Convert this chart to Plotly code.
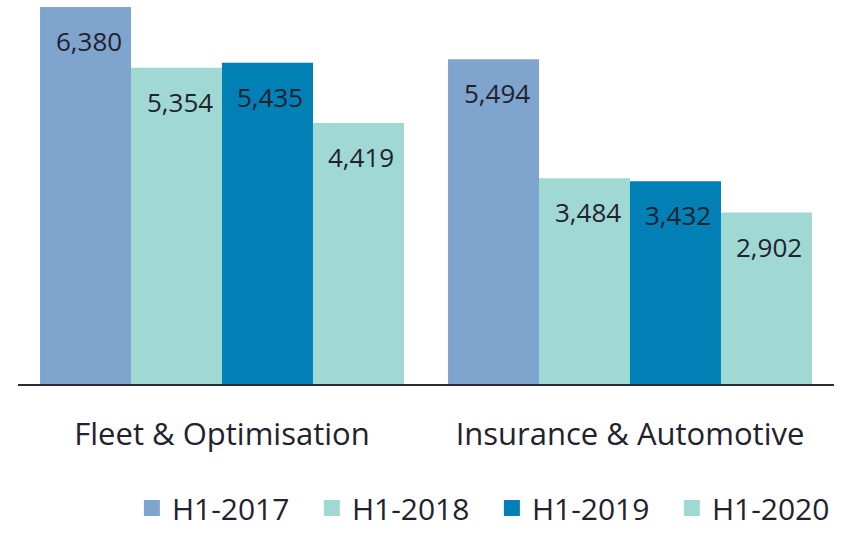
import plotly.graph_objects as go

categories = ["Fleet & Optimisation", "Insurance & Automotive"]
series_names = ["H1-2017", "H1-2018", "H1-2019", "H1-2020"]
values_2017 = [6380, 5494]
values_2018 = [5354, 3484]
values_2019 = [5435, 3432]
values_2020 = [4419, 2902]
series_values = [values_2017, values_2018, values_2019, values_2020]
colors = ["#7fa4cd", "#a0d9d3", "#0080b4", "#a0d9d3"]

FONT = "Open Sans"
TXT = "#22222e"
bargap = 0.108

fig = go.Figure()
for name, vals, col in zip(series_names, series_values, colors):
    fig.add_trace(go.Bar(
        x=categories, y=vals, name=name, marker=dict(color=col, line=dict(width=0)),
        showlegend=False, hoverinfo="skip"))
# legend proxies with larger square swatches
for name, col in zip(series_names, colors):
    fig.add_trace(go.Scatter(
        x=[None], y=[None], mode="markers", name=name,
        marker=dict(symbol="square", size=20, color=col), showlegend=True))

n = len(series_names)
w = (1 - bargap) / n
for i, vals in enumerate(series_values):
    off = -(1 - bargap) / 2 + w * (i + 0.5)
    for ci, v in enumerate(vals):
        fig.add_annotation(
            x=ci + off, y=v, xref="x", yref="y", text=f"{v:,}",
            showarrow=False, yanchor="middle", yshift=-34, xshift=3,
            font=dict(family=FONT, size=26, color=TXT))

fig.update_layout(
    width=862, height=534,
    margin=dict(l=18, r=28, t=7, b=150, autoexpand=False),
    paper_bgcolor="white", plot_bgcolor="white",
    barmode="group", bargap=bargap, bargroupgap=0,
    font=dict(family=FONT, color=TXT),
    legend=dict(orientation="h", xref="container", yref="container",
                x=0.153, xanchor="left", y=0.0, yanchor="bottom",
                entrywidth=135, entrywidthmode="pixels",
                font=dict(family=FONT, size=30, color=TXT),
                itemwidth=30, tracegroupgap=0, borderwidth=0),
    xaxis=dict(showline=True, linecolor="#2a2a38", linewidth=2, ticks="",
               tickfont=dict(family=FONT, size=31, color=TXT),
               ticklabelstandoff=22, showgrid=False, zeroline=False),
    yaxis=dict(range=[0, 6380], visible=False, showgrid=False),
)

fig.write_html("out.html", config={"displayModeBar": False},
               post_script="document.body.style.margin='0';")
